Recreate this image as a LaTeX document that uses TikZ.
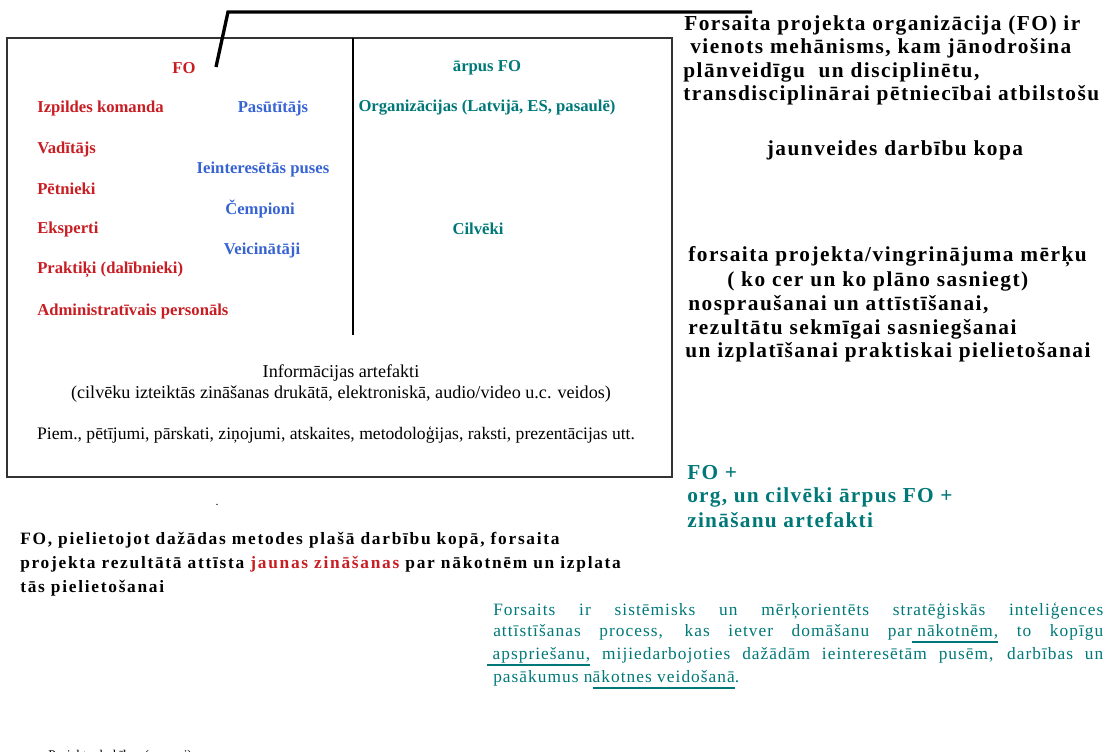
\documentclass[tikz,border=0pt]{standalone}
\usepackage{fontspec}
\setmainfont{Liberation Serif}
\definecolor{fored}{RGB}{200,30,35}
\definecolor{foblue}{RGB}{55,100,210}
\definecolor{foteal}{RGB}{0,120,120}
\newcommand\ulteal[1]{\setbox0\hbox{#1}\rlap{\color{foteal}\rule[-5pt]{\wd0}{1.9pt}}\box0\relax}
\tikzset{
  lbl/.style={inner sep=0, font=\fontsize{12.5}{14}\selectfont\bfseries},
  redlbl/.style={lbl, text=fored, anchor=west},
  bluelbl/.style={lbl, text=foblue},
  teallbl/.style={lbl, text=foteal},
  infotxt/.style={inner sep=0, font=\fontsize{13.6}{15}\selectfont},
  rtxt/.style={inner sep=0, anchor=west, font=\fontsize{16}{19}\selectfont\bfseries\addfontfeature{LetterSpace=7}},
  gtxt/.style={inner sep=0, anchor=west, text=foteal, font=\fontsize{16}{19}\selectfont\bfseries\addfontfeature{LetterSpace=6}},
  btxt/.style={inner sep=0, anchor=west, font=\fontsize{13}{15}\selectfont\bfseries\addfontfeature{LetterSpace=10}},
  ftxt/.style={inner sep=0, anchor=west, text=foteal, font=\fontsize{13}{15}\selectfont\addfontfeature{LetterSpace=6}},
  boxline/.style={draw=black!80, line width=0.8pt},
  thick line/.style={line width=2.5pt}
}
\begin{document}
\begin{tikzpicture}[x=0.75pt,y=-0.75pt]
\useasboundingbox (0,0) rectangle (1115,751);
% frame
\draw[boxline] (7,38) rectangle (672,477);
\coordinate (dtop) at (353,38);
\coordinate (dbot) at (353,335);
\draw[line width=0.8pt] (dtop) -- (dbot);
% pointer line
\coordinate (pa) at (216,67);
\coordinate (pb) at (228,12);
\coordinate (pc) at (752,12);
\draw[thick line] (pa) -- (pb) -- (pc);
% FO column
\node[lbl, text=fored] (fo) at (184,68) {FO};
\node[redlbl] (r1) at (37,108) {Izpildes komanda};
\node[redlbl] (r2) at (37,149) {Vadītājs};
\node[redlbl] (r3) at (37,189) {Pētnieki};
\node[redlbl] (r4) at (37,229) {Eksperti};
\node[redlbl] (r5) at (37,270) {Praktiķi (dalībnieki)};
\node[redlbl] (r6) at (37,311) {Administratīvais personāls};
\node[bluelbl] (b1) at (273,108) {Pasūtītājs};
\node[bluelbl] (b2) at (263,169) {Ieinteresētās puses};
\node[bluelbl] (b3) at (260,209) {Čempioni};
\node[bluelbl] (b4) at (262,250) {Veicinātāji};
% outside FO
\node[teallbl] (t0) at (487,68) {ārpus FO};
\node[teallbl] (t1) at (487,108) {Organizācijas (Latvijā, ES, pasaulē)};
\node[teallbl] (t2) at (478,229) {Cilvēki};
% artefacts
\node[infotxt] (i1) at (341,373) {Informācijas artefakti};
\node[infotxt] (i2) at (341,394) {(cilvēku izteiktās zināšanas drukātā, elektroniskā, audio/video u.c. veidos)};
\node[infotxt, font=\fontsize{13.2}{15}\selectfont] (i3) at (336,435) {Piem., pētījumi, pārskati, ziņojumi, atskaites, metodoloģijas, raksti, prezentācijas utt.};
% right text
\node[rtxt] (l1) at (684,25) {Forsaita projekta organizācija (FO) ir};
\node[rtxt] (l2) at (690,48) {vienots mehānisms, kam jānodrošina};
\node[rtxt] (l3) at (683,72) {plānveidīgu\ \ un disciplinētu,};
\node[rtxt] (l4) at (683,95) {transdisciplinārai pētniecībai atbilstošu};
\node[rtxt, anchor=center] (l5) at (895,150) {jaunveides darbību kopa};
\node[rtxt] (l6) at (688,257) {forsaita projekta/vingrinājuma mērķu};
\node[rtxt] (l7) at (727,281) {( ko cer un ko plāno sasniegt)};
\node[rtxt] (l8) at (688,305) {nospraušanai un attīstīšanai,};
\node[rtxt] (l9) at (688,329) {rezultātu sekmīgai sasniegšanai};
\node[rtxt] (l10) at (685,352) {un izplatīšanai praktiskai pielietošanai};
% teal summary
\node[gtxt] (g1) at (687,473) {FO +};
\node[gtxt] (g2) at (687,497) {org, un cilvēki ārpus FO +};
\node[gtxt] (g3) at (687,520) {zināšanu artefakti};
% small dot
\node[inner sep=0, font=\fontsize{9}{10}\selectfont] (dot) at (217,505) {.};
% bottom-left paragraph
\node[btxt] (p1) at (20,540) {FO, pielietojot dažādas metodes plašā darbību kopā, forsaita};
\node[btxt] (p2) at (20,564) {projekta rezultātā attīsta \textcolor{fored}{jaunas zināšanas} par nākotnēm un izplata};
\node[btxt] (p3) at (20,588) {tās pielietošanai};
% Forsaits paragraph
\node[ftxt] (f1) at (493,611) {\makebox[457.5pt][s]{Forsaits ir sistēmisks un mērķorientēts stratēģiskās inteliģences}};
\node[ftxt] (f2) at (493,634) {\makebox[457.5pt][s]{attīstīšanas process, kas ietver domāšanu par\ulteal{\ nākotnēm,} to kopīgu}};
\node[ftxt] (f3) at (487,657) {\makebox[462pt][s]{\ulteal{\ apspriešanu,} mijiedarbojoties dažādām ieinteresētām pusēm, darbības un}};
\node[ftxt] (f4) at (493,680) {pasākumus n\ulteal{ākotnes veidošanā}.};
% cut-off bottom line
\node[inner sep=0, anchor=west, font=\fontsize{10}{12}\selectfont] (cut) at (48,756) {Projekta darbības (procesi) –};
\end{tikzpicture}
\end{document}
